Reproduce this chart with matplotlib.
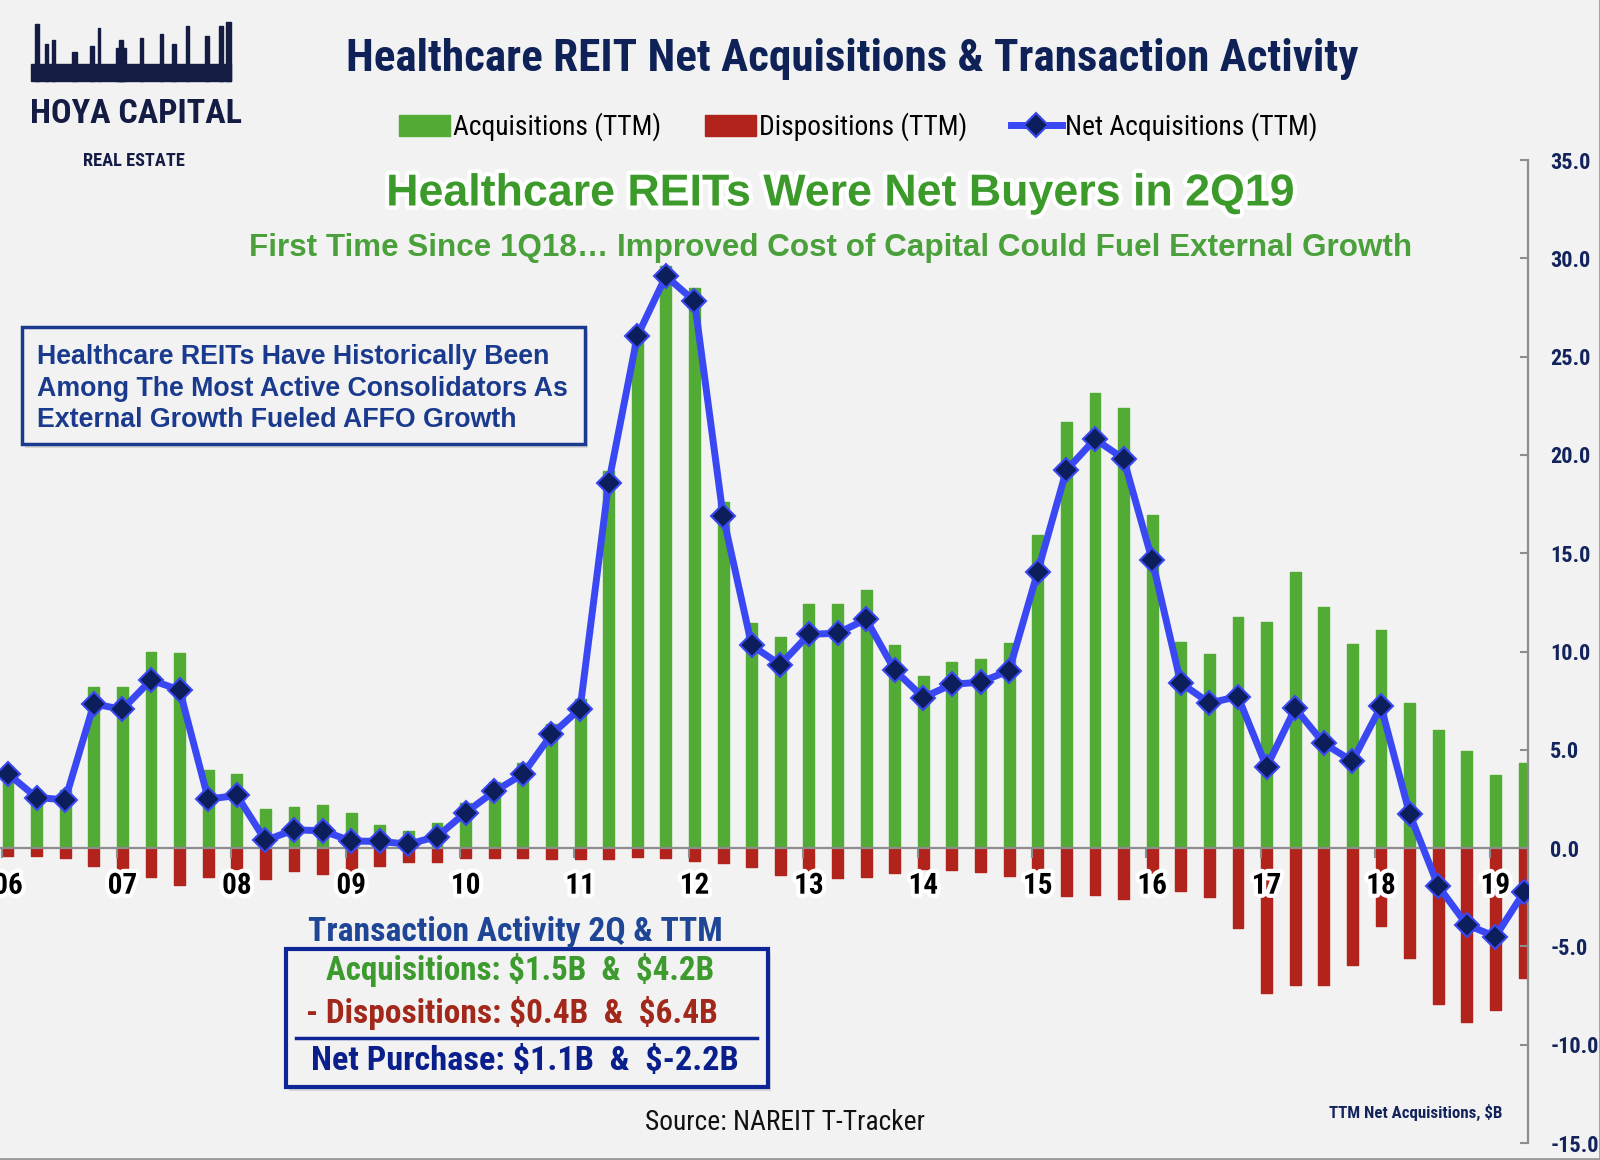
import os
import matplotlib
matplotlib.use('Agg')
import matplotlib.pyplot as plt
import matplotlib.patheffects as pe
from matplotlib import font_manager as fm
from matplotlib.patches import Rectangle
import numpy as np

# ---------------- data (TTM, $B) ----------------
year_labels = ['06', '07', '08', '09', '10', '11', '12', '13', '14', '15', '16', '17', '18', '19']
quarters = [f"{q}Q{y}" for y in year_labels for q in range(1, 5)][:54]

acquisitions = [4.15, 2.97, 2.96, 8.2,
                8.2, 10.0, 9.9, 3.95,
                3.76, 1.98, 2.08, 2.18,
                1.78, 1.19, 0.88, 1.27,
                2.29, 3.35, 4.35, 6.33,
                7.6, 19.16, 26.5, 29.6,
                28.5, 17.6, 11.44, 10.72,
                12.42, 12.42, 13.11, 10.31,
                8.74, 9.46, 9.64, 10.42,
                15.94, 21.68, 23.17, 22.4,
                16.93, 10.5, 9.87, 11.77,
                11.48, 14.06, 12.28, 10.38,
                11.09, 7.38, 6.01, 4.93,
                3.73, 4.32]

dispositions = [0.4, 0.4, 0.5, 0.9,
                1.14, 1.47, 1.9, 1.47,
                1.05, 1.57, 1.19, 1.3,
                1.4, 0.9, 0.71, 0.71,
                0.5, 0.5, 0.5, 0.57,
                0.57, 0.57, 0.45, 0.5,
                0.67, 0.75, 0.96, 1.38,
                1.55, 1.5, 1.47, 1.26,
                1.08, 1.1, 1.2, 1.4,
                1.9, 2.45, 2.4, 2.6,
                2.28, 2.2, 2.49, 4.08,
                7.36, 6.97, 6.97, 5.97,
                3.95, 5.6, 7.95, 8.86,
                8.26, 6.6]

net_acquisitions = [3.78, 2.57, 2.46, 7.33,
                    7.06, 8.55, 8.04, 2.49,
                    2.68, 0.39, 0.93, 0.88,
                    0.36, 0.34, 0.2, 0.59,
                    1.81, 2.88, 3.76, 5.78,
                    7.09, 18.59, 26.04, 29.1,
                    27.82, 16.89, 10.31, 9.33,
                    10.87, 10.93, 11.64, 9.05,
                    7.66, 8.33, 8.44, 9.03,
                    14.06, 19.22, 20.8, 19.81,
                    14.65, 8.4, 7.38, 7.71,
                    4.12, 7.11, 5.33, 4.42,
                    7.21, 1.74, -1.93, -3.9,
                    -4.5, -2.24]

y_ticks = [-15, -10, -5, 0, 5, 10, 15, 20, 25, 30, 35]

legend_labels = ['Acquisitions (TTM)', 'Dispositions (TTM)', 'Net Acquisitions (TTM)']

# ---------------- fonts ----------------
def has_font(name, **kw):
    try:
        p = fm.findfont(fm.FontProperties(family=name, **kw), fallback_to_default=False)
        return p
    except Exception:
        return None

ARIAL = ['Liberation Sans', 'DejaVu Sans']
COND = {'family': ARIAL, 'stretch': 'normal'}
IS_COND = False
for fam in ['Liberation Sans Narrow', 'Roboto Condensed', 'Open Sans Condensed',
            'DejaVu Sans Condensed', 'Noto Sans Condensed']:
    if has_font(fam):
        COND = {'family': [fam, 'DejaVu Sans'], 'stretch': 'normal'}
        IS_COND = True
        break
if not IS_COND:
    for fam in ['Noto Sans', 'Roboto', 'Open Sans', 'DejaVu Sans']:
        p = has_font(fam, stretch='condensed', weight='bold')
        if p and ('ondens' in os.path.basename(p) or 'arrow' in os.path.basename(p)):
            COND = {'family': [fam, 'DejaVu Sans'], 'stretch': 'condensed'}
            IS_COND = True
            break

plt.rcParams['axes.unicode_minus'] = False

BG = '#f2f2f2'
NAVY = '#13245c'
GREEN_BAR = '#51ab35'
RED_BAR = '#b2231b'
LINE_BLUE = '#3a48f4'
MARKER_NAVY = '#0c1f5c'
BOX_BLUE = '#1a3a8e'
LOGO = '#141c44'

W, H = 1600, 1160
fig = plt.figure(figsize=(W / 100, H / 100), dpi=100, facecolor=BG)
renderer = fig.canvas.get_renderer()

def fx(px):
    return px / W

def fy(py):
    return 1 - py / H

def fit(t, width_px, max_size=None):
    w = t.get_window_extent(renderer).width
    s = t.get_fontsize() * width_px / w
    if max_size is not None:
        s = min(s, max_size)
    t.set_fontsize(s)
    return s

def ctext(xp, yp, s, **kw):
    return fig.text(fx(xp), fy(yp), s, family=COND['family'], fontstretch=COND['stretch'], **kw)

# ---------------- axes ----------------
ax = fig.add_axes([0, fy(1143), fx(1528), (1143 - 160) / H])
ax.set_facecolor('none')
x = np.arange(len(quarters))

b_acq = ax.bar(x, acquisitions, width=0.38, color=GREEN_BAR, edgecolor=GREEN_BAR,
               linewidth=1, joinstyle='round', zorder=1, label=legend_labels[0])
b_disp = ax.bar(x, -np.array(dispositions), width=0.38, color=RED_BAR, edgecolor=RED_BAR,
                linewidth=1, joinstyle='round', zorder=1, label=legend_labels[1])
l_net, = ax.plot(x, net_acquisitions, color=LINE_BLUE, lw=5, marker='D', ms=12,
                 mfc=MARKER_NAVY, mec=LINE_BLUE, mew=1.5, zorder=4, label=legend_labels[2],
                 solid_joinstyle='round')

ax.set_xlim(-0.28, 53.14)
ax.set_ylim(-15, 35)

for s in ['left', 'top']:
    ax.spines[s].set_visible(False)
ax.spines['bottom'].set_position(('data', 0))
ax.spines['bottom'].set_color('#8d8d8d')
ax.spines['bottom'].set_linewidth(1.6)
ax.spines['bottom'].set_zorder(2)
ax.spines['right'].set_color('#8d8d8d')
ax.spines['right'].set_linewidth(1.6)

ax.yaxis.tick_right()
ax.set_yticks(y_ticks)
ax.set_yticklabels([f"{v:.1f}" for v in y_ticks])
ax.tick_params(axis='y', direction='in', length=6, width=1.5, color='#8d8d8d',
               pad=16, labelsize=(16 if IS_COND else 14), labelcolor=NAVY)
for lab in ax.get_yticklabels():
    lab.set_fontweight('bold')
    lab.set_family(COND['family'])
    lab.set_stretch(COND['stretch'])

year_pos = [i * 4 for i in range(len(year_labels))]
ax.set_xticks(year_pos)
ax.set_xticklabels(year_labels)
ax.set_xticks([p - 0.2 for p in year_pos], minor=True)
ax.tick_params(axis='x', which='major', length=0, pad=17, labelsize=(21 if IS_COND else 18))
ax.tick_params(axis='x', which='minor', direction='out', length=7, width=1.5, color='#8d8d8d')
for lab in ax.get_xticklabels():
    lab.set_fontweight('bold')
    lab.set_family(COND['family'])
    lab.set_stretch(COND['stretch'])
    lab.set_path_effects([pe.withStroke(linewidth=6, foreground='white')])

# ---------------- legend ----------------
probe = ctext(0, 0, legend_labels[0], fontsize=18)
leg_size = fit(probe, 208, max_size=24)
probe.remove()
em = leg_size * 100 / 72
leg = fig.legend([b_acq, b_disp, l_net], legend_labels, loc='center',
                 bbox_to_anchor=(fx(858), fy(127)), ncol=3, frameon=False,
                 prop={'family': COND['family'], 'stretch': COND['stretch'], 'size': leg_size},
                 handlelength=51 / em, handleheight=22 / em, handletextpad=3 / em,
                 columnspacing=44 / em)

# ---------------- titles ----------------
t = ctext(852, 59, 'Healthcare REIT Net Acquisitions & Transaction Activity',
          ha='center', va='center', fontsize=24, fontweight='bold', color='#0f2258')
fit(t, 1014, max_size=38)

t = fig.text(fx(840), fy(194), 'Healthcare REITs Were Net Buyers in 2Q19',
             ha='center', va='center', fontsize=27, fontweight='bold',
             color='#3c9a2b', family=ARIAL,
             path_effects=[pe.SimplePatchShadow(offset=(2, -2), shadow_rgbFace='#444444', alpha=0.45),
                           pe.withStroke(linewidth=6, foreground='white')])
fit(t, 908)

t = fig.text(fx(831), fy(248), 'First Time Since 1Q18\u2026 Improved Cost of Capital Could Fuel External Growth',
             ha='center', va='center', fontsize=20, fontweight='bold',
             color='#4aa03a', family=ARIAL)
fit(t, 1159)

# ---------------- logo ----------------
fig.patches.append(Rectangle((fx(31), fy(81)), fx(200), (81 - 64) / H,
                             transform=fig.transFigure, color=LOGO, zorder=2))
for bx, bw, top in [(35, 4, 24), (45, 3, 44), (52, 3, 40), (72, 5, 52), (90, 4, 46),
                    (98, 2, 28), (116, 10, 48), (119, 4, 40), (140, 3, 38), (160, 3, 34),
                    (172, 4, 44), (186, 3, 26), (205, 4, 36), (219, 4, 26), (226, 5, 22)]:
    fig.patches.append(Rectangle((fx(bx), fy(81)), fx(bw), (81 - top) / H,
                                 transform=fig.transFigure, color=LOGO, zorder=2))
t = ctext(136, 114, 'HOYA CAPITAL', ha='center', va='center', fontsize=27,
          fontweight='bold', color=LOGO)
fit(t, 212, max_size=40)
t = ctext(134, 161, 'REAL ESTATE', ha='center', va='center', fontsize=15,
          fontweight='bold', color=LOGO)
fit(t, 102, max_size=22)

# ---------------- annotation box 1 ----------------
fig.patches.append(Rectangle((fx(25), fy(448)), fx(563), (448 - 331) / H,
                             transform=fig.transFigure, facecolor='#c4c4c4',
                             edgecolor='none', zorder=2, alpha=0.6))
fig.patches.append(Rectangle((fx(22), fy(444)), fx(563), (444 - 327) / H,
                             transform=fig.transFigure, facecolor=BG,
                             edgecolor=BOX_BLUE, linewidth=2.5, zorder=3))
box1 = []
for txt, yy in [('Healthcare REITs Have Historically Been', 357),
                ('Among The Most Active Consolidators As', 389),
                ('External Growth Fueled AFFO Growth', 420)]:
    box1.append(fig.text(fx(37), fy(yy), txt, ha='left', va='center', fontsize=17.5,
                         fontweight='bold', color=BOX_BLUE, family=ARIAL, zorder=4))
s1 = fit(box1[1], 531)
for tt in box1:
    tt.set_fontsize(s1)

# ---------------- annotation box 2 ----------------
t = ctext(515, 932, 'Transaction Activity 2Q & TTM', ha='center', va='center',
          fontsize=18, fontweight='bold', color='#1f4597')
fit(t, 413)
fig.patches.append(Rectangle((fx(289), fy(1091)), fx(482), (1091 - 953) / H,
                             transform=fig.transFigure, facecolor='#c4c4c4',
                             edgecolor='none', zorder=2, alpha=0.6))
fig.patches.append(Rectangle((fx(286), fy(1087)), fx(482), (1087 - 949) / H,
                             transform=fig.transFigure, facecolor=BG,
                             edgecolor='#0d2596', linewidth=3, zorder=3))
t = ctext(520, 970, 'Acquisitions: \\$1.5B  &  \\$4.2B', ha='center', va='center',
          fontsize=18, fontweight='bold', color='#3d9a2e', zorder=4)
fit(t, 388)
t = ctext(512, 1013, '- Dispositions: \\$0.4B  &  \\$6.4B', ha='center', va='center',
          fontsize=18, fontweight='bold', color='#a1281a', zorder=4)
fit(t, 411)
fig.lines.append(plt.Line2D([fx(296), fx(757)], [fy(1038), fy(1038)],
                            transform=fig.transFigure, color='#0d2596', lw=2.5, zorder=4))
t = ctext(525, 1061, 'Net Purchase: \\$1.1B  &  \\$-2.2B', ha='center', va='center',
          fontsize=18, fontweight='bold', color='#0b1f8c', zorder=4)
fit(t, 428)

# ---------------- footers ----------------
t = ctext(785, 1122, 'Source: NAREIT T-Tracker', ha='center', va='center',
          fontsize=17, color='#111111')
fit(t, 280, max_size=24)
t = ctext(1502, 1112, 'TTM Net Acquisitions, \\$B', ha='right', va='center',
          fontsize=10, fontweight='bold', color=NAVY)
fit(t, 174, max_size=15)

fig.lines.append(plt.Line2D([0, 1, 1], [0.001, 0.001, 1], transform=fig.transFigure,
                            color='#9a9a9a', lw=2))

fig.savefig('out.png', dpi=100, facecolor=BG)
